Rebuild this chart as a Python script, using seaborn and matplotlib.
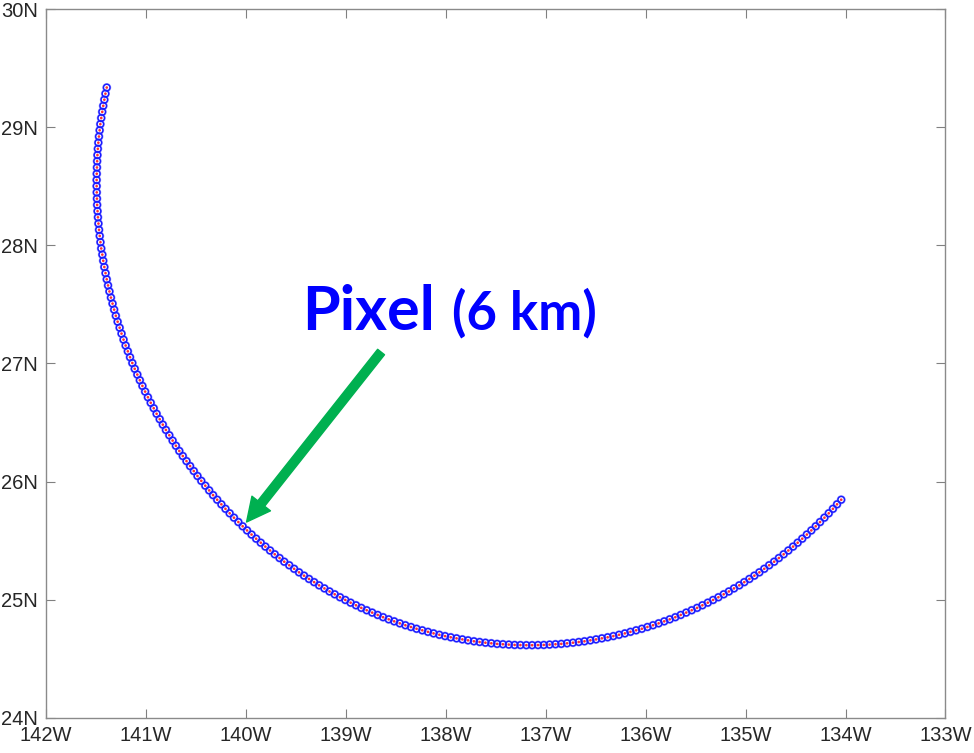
import matplotlib
matplotlib.use("Agg")
import matplotlib.pyplot as plt
from matplotlib.patches import FancyArrowPatch, ArrowStyle
import pandas as pd
import seaborn as sns

# Ground-track of the scan: longitude (deg E, negative = W) and latitude (deg N)
lon = [
    -141.392, -141.405, -141.416, -141.427, -141.437, -141.447, -141.456, -141.463,
    -141.470, -141.476, -141.481, -141.485, -141.488, -141.490, -141.492, -141.493,
    -141.493, -141.492, -141.490, -141.488, -141.484, -141.480, -141.475, -141.469,
    -141.462, -141.455, -141.447, -141.436, -141.427, -141.416, -141.404, -141.392,
    -141.379, -141.365, -141.350, -141.334, -141.318, -141.301, -141.283, -141.263,
    -141.244, -141.224, -141.203, -141.181, -141.159, -141.136, -141.112, -141.086,
    -141.061, -141.035, -141.008, -140.980, -140.952, -140.922, -140.893, -140.862,
    -140.831, -140.800, -140.766, -140.733, -140.700, -140.666, -140.631, -140.594,
    -140.558, -140.521, -140.484, -140.446, -140.406, -140.367, -140.328, -140.287,
    -140.245, -140.204, -140.162, -140.119, -140.075, -140.032, -139.988, -139.943,
    -139.897, -139.851, -139.805, -139.758, -139.711, -139.663, -139.616, -139.566,
    -139.517, -139.468, -139.418, -139.368, -139.317, -139.267, -139.214, -139.163,
    -139.111, -139.058, -139.005, -138.952, -138.898, -138.845, -138.791, -138.736,
    -138.681, -138.627, -138.571, -138.516, -138.460, -138.404, -138.348, -138.292,
    -138.235, -138.178, -138.122, -138.064, -138.007, -137.950, -137.892, -137.834,
    -137.777, -137.718, -137.661, -137.603, -137.544, -137.486, -137.428, -137.369,
    -137.311, -137.253, -137.194,
    -137.136, -137.077, -137.019, -136.961, -136.902, -136.844, -136.786, -136.727,
    -136.669, -136.612, -136.553, -136.496, -136.438, -136.380, -136.323, -136.266,
    -136.208, -136.152, -136.095, -136.038, -135.982, -135.926, -135.870, -135.814,
    -135.759, -135.703, -135.649, -135.594, -135.539, -135.485, -135.432, -135.378,
    -135.325, -135.272, -135.219, -135.167, -135.116, -135.063, -135.013, -134.962,
    -134.912, -134.862, -134.813, -134.764, -134.714, -134.667, -134.619, -134.572,
    -134.525, -134.479, -134.433, -134.387, -134.342, -134.298, -134.255, -134.211,
    -134.168, -134.126, -134.085, -134.043,
]
lat = [
    29.337, 29.285, 29.234, 29.182, 29.131, 29.079, 29.027, 28.975,
    28.922, 28.870, 28.818, 28.765, 28.713, 28.660, 28.607, 28.554,
    28.502, 28.449, 28.396, 28.343, 28.290, 28.238, 28.185, 28.132,
    28.080, 28.027, 27.974, 27.922, 27.870, 27.817, 27.765, 27.713,
    27.661, 27.610, 27.558, 27.507, 27.456, 27.404, 27.354, 27.303,
    27.253, 27.202, 27.152, 27.103, 27.053, 27.004, 26.955, 26.906,
    26.858, 26.810, 26.762, 26.714, 26.667, 26.621, 26.574, 26.528,
    26.482, 26.437, 26.392, 26.347, 26.303, 26.259, 26.216, 26.173,
    26.131, 26.089, 26.047, 26.006, 25.965, 25.925, 25.885, 25.846,
    25.807, 25.769, 25.731, 25.694, 25.657, 25.621, 25.586, 25.551,
    25.516, 25.482, 25.449, 25.416, 25.384, 25.352, 25.321, 25.291,
    25.261, 25.231, 25.203, 25.175, 25.148, 25.121, 25.095, 25.069,
    25.045, 25.020, 24.997, 24.974, 24.952, 24.930, 24.910, 24.890,
    24.870, 24.851, 24.833, 24.816, 24.799, 24.783, 24.768, 24.753,
    24.740, 24.727, 24.714, 24.702, 24.691, 24.681, 24.672, 24.663,
    24.655, 24.647, 24.641, 24.635, 24.630, 24.625, 24.622, 24.619,
    24.616, 24.615, 24.614,
    24.614, 24.615, 24.616, 24.619, 24.622, 24.625, 24.630, 24.635,
    24.641, 24.647, 24.655, 24.663, 24.672, 24.681, 24.691, 24.702,
    24.714, 24.727, 24.740, 24.753, 24.768, 24.783, 24.799, 24.816,
    24.833, 24.851, 24.870, 24.890, 24.910, 24.930, 24.952, 24.974,
    24.997, 25.020, 25.045, 25.069, 25.095, 25.121, 25.148, 25.175,
    25.203, 25.231, 25.261, 25.291, 25.321, 25.352, 25.384, 25.416,
    25.449, 25.482, 25.516, 25.551, 25.586, 25.621, 25.657, 25.694,
    25.731, 25.769, 25.807, 25.846,
]

x_ticks = [-142, -141, -140, -139, -138, -137, -136, -135, -134, -133]
x_tick_labels = ["142W", "141W", "140W", "139W", "138W", "137W", "136W", "135W", "134W", "133W"]
y_ticks = [24, 25, 26, 27, 28, 29, 30]
y_tick_labels = ["24N", "25N", "26N", "27N", "28N", "29N", "30N"]

title_word = "Pixel"
title_note = "(6 km)"

sns.set_style("ticks")
plt.rcParams["font.family"] = ["Liberation Sans", "DejaVu Sans"]

fig = plt.figure(figsize=(9.74, 7.53), dpi=100)
ax = fig.add_axes([0.0472, 0.0469, 0.9235, 0.9408])

track = pd.DataFrame({"lon": lon, "lat": lat})

# soft halo, then the open blue circle, then a small red dot at the centre
sns.scatterplot(data=track, x="lon", y="lat", marker="o", s=30,
                facecolor="none", edgecolor="#9a9aff", linewidth=1.0,
                legend=False, ax=ax, zorder=2)
sns.scatterplot(data=track, x="lon", y="lat", marker="o", s=22,
                facecolor="none", edgecolor="#1a1aff", linewidth=1.05,
                legend=False, ax=ax, zorder=2.5)
sns.scatterplot(data=track, x="lon", y="lat", marker="o", s=3.6,
                color="#ff3030", edgecolor="none", linewidth=0,
                legend=False, ax=ax, zorder=3)

ax.set_xlim(-142, -133)
ax.set_ylim(24, 30)
ax.set_xticks(x_ticks)
ax.set_xticklabels(x_tick_labels)
ax.set_yticks(y_ticks)
ax.set_yticklabels(y_tick_labels)
ax.set_xlabel("")
ax.set_ylabel("")

ax.tick_params(direction="in", length=6.5, width=0.8, color="#808080",
               top=True, right=True, labelsize=14.5, labelcolor="#262626", pad=6)
for sp in ax.spines.values():
    sp.set_color("#8a8a8a")
    sp.set_linewidth(1.0)
    sp.set_visible(True)

# annotation text
ax.text(-139.437, 27.284, title_word, fontsize=44, fontweight="bold",
        color="#0000ff", family=["Lato", "DejaVu Sans"], va="baseline", ha="left")
ax.text(-137.936, 27.284, title_note, fontsize=38, fontweight="bold",
        color="#0000ff", family=["Lato", "DejaVu Sans"], va="baseline", ha="left")

# green pointer arrow
arrow_tail = (-138.647, 27.097)
arrow_tip = (-139.993, 25.657)
arrow = FancyArrowPatch(arrow_tail, arrow_tip,
                        arrowstyle=ArrowStyle.Simple(head_length=17, head_width=17, tail_width=6.3),
                        mutation_scale=1, shrinkA=0, shrinkB=0,
                        color="#00b050", zorder=4)
ax.add_patch(arrow)

fig.savefig("out.png", dpi=100, facecolor="white")
